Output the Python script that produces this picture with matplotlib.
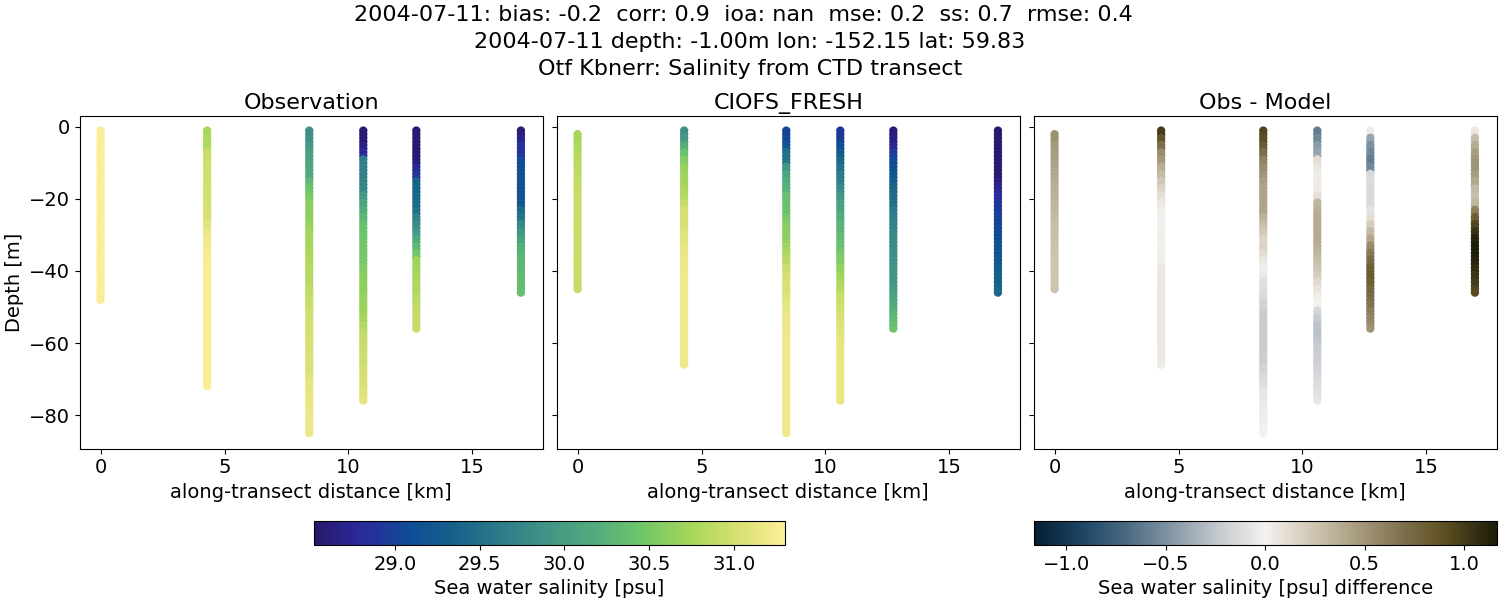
import matplotlib
matplotlib.use('Agg')
import matplotlib.pyplot as plt
from matplotlib.cm import ScalarMappable
from matplotlib.colors import LinearSegmentedColormap, Normalize

suptitle_text = ("2004-07-11: bias: -0.2  corr: 0.9  ioa: nan  mse: 0.2  ss: 0.7  rmse: 0.4  \n"
                 "2004-07-11 depth: -1.00m lon: -152.15 lat: 59.83\n"
                 "Otf Kbnerr: Salinity from CTD transect")
panel_titles = ['Observation', 'CIOFS_FRESH', 'Obs - Model']

distance = [0.0, 4.3, 8.42, 10.6, 12.74, 16.96]

# sample levels in metres, each cast also has its own top and bottom
levels = [-1, -3, -5, -7, -9, -11, -13, -15, -17, -19, -21, -23, -25, -27, -29,
          -31, -33, -35, -37, -39, -41, -43, -45, -47, -49, -51, -53, -55, -57,
          -59, -61, -63, -65, -67, -69, -71, -73, -75, -77, -79, -81, -83, -85]
obs_top = [-1, -1, -1, -1, -1, -1]
obs_bottom = [-48, -72, -85, -76, -56, -46]
model_top = [-2, -1, -1, -1, -1, -1]
model_bottom = [-45, -66, -85, -76, -56, -46]

obs_cast1 = [31.28, 31.28, 31.28, 31.28, 31.28, 31.28, 31.28, 31.28, 31.28, 31.28,
             31.28, 31.28, 31.28, 31.28, 31.28, 31.28, 31.28, 31.28, 31.28, 31.28,
             31.28, 31.28, 31.28, 31.28, 31.28]
obs_cast2 = [30.75, 30.78, 30.8, 30.95, 30.97, 30.97, 30.98, 30.98, 31.0, 31.0,
             31.0, 31.02, 31.05, 31.1, 31.15, 31.2, 31.22, 31.25, 31.25, 31.26,
             31.26, 31.27, 31.27, 31.27, 31.27, 31.27, 31.27, 31.28, 31.28, 31.28,
             31.28, 31.28, 31.28, 31.28, 31.28, 31.28, 31.28]
obs_cast3 = [29.85, 29.85, 29.95, 30.05, 30.08, 30.12, 30.15, 30.3, 30.42, 30.5,
             30.6, 30.6, 30.62, 30.65, 30.72, 30.75, 30.75, 30.78, 30.8, 30.82,
             30.85, 30.85, 30.88, 30.9, 30.92, 30.97, 30.98, 31.0, 31.0, 31.02,
             31.02, 31.03, 31.05, 31.05, 31.08, 31.12, 31.12, 31.14, 31.15, 31.16,
             31.17, 31.18, 31.18]
obs_cast4 = [28.58, 28.58, 28.65, 28.8, 29.65, 29.7, 29.7, 29.72, 29.75, 29.95,
             30.1, 30.2, 30.3, 30.38, 30.42, 30.45, 30.47, 30.48, 30.5, 30.55,
             30.6, 30.62, 30.62, 30.65, 30.68, 30.7, 30.75, 30.82, 30.88, 30.92,
             30.95, 30.97, 30.98, 31.0, 31.02, 31.05, 31.08, 31.1, 31.12]
obs_cast5 = [28.55, 28.55, 28.55, 28.55, 28.58, 28.75, 28.9, 29.35, 29.38, 29.42,
             29.45, 29.5, 29.7, 29.8, 29.95, 30.15, 30.3, 30.45, 30.7, 30.72,
             30.75, 30.78, 30.8, 30.85, 30.88, 30.9, 30.92, 30.92, 30.93]
obs_cast6 = [28.6, 28.7, 28.85, 28.9, 29.05, 29.1, 29.15, 29.15, 29.15, 29.17,
             29.2, 29.45, 29.55, 29.75, 29.9, 30.05, 30.2, 30.25, 30.28, 30.3,
             30.33, 30.35, 30.37, 30.38]

model_cast1 = [30.75, 30.75, 30.8, 30.82, 30.85, 30.87, 30.88, 30.9, 30.9, 30.92,
               30.93, 30.93, 30.94, 30.94, 30.95, 30.95, 30.95, 30.95, 30.95, 30.93,
               30.92, 30.9, 30.9]
model_cast2 = [29.85, 29.95, 30.2, 30.4, 30.55, 30.65, 30.7, 30.72, 30.78, 30.82,
               30.92, 31.0, 31.02, 31.05, 31.08, 31.1, 31.13, 31.15, 31.17, 31.18,
               31.2, 31.2, 31.2, 31.2, 31.2, 31.2, 31.2, 31.2, 31.2, 31.2,
               31.2, 31.2, 31.2, 31.2]
model_cast3 = [29.0, 29.05, 29.2, 29.5, 29.55, 29.9, 30.1, 30.2, 30.25, 30.38,
               30.4, 30.42, 30.5, 30.58, 30.6, 30.62, 30.72, 30.8, 30.85, 30.95,
               31.0, 31.03, 31.05, 31.08, 31.12, 31.15, 31.16, 31.17, 31.18, 31.19,
               31.2, 31.2, 31.2, 31.2, 31.2, 31.2, 31.2, 31.2, 31.2, 31.2,
               31.2, 31.2, 31.2]
model_cast4 = [28.9, 28.95, 29.1, 29.25, 29.4, 29.5, 29.6, 29.65, 29.8, 29.9,
               30.05, 30.1, 30.2, 30.25, 30.3, 30.35, 30.4, 30.5, 30.55, 30.65,
               30.7, 30.78, 30.85, 30.92, 30.97, 31.0, 31.05, 31.08, 31.1, 31.12,
               31.13, 31.14, 31.15, 31.15, 31.15, 31.15, 31.15, 31.15, 31.15]
model_cast5 = [28.6, 28.65, 28.75, 28.95, 29.05, 29.12, 29.2, 29.3, 29.4, 29.45,
               29.5, 29.6, 29.65, 29.7, 29.75, 29.8, 29.82, 29.85, 29.87, 29.9,
               29.92, 29.95, 30.0, 30.1, 30.15, 30.25, 30.32, 30.38, 30.42]
model_cast6 = [28.55, 28.55, 28.55, 28.55, 28.55, 28.55, 28.55, 28.65, 28.75, 28.8,
               28.9, 28.95, 29.0, 29.03, 29.05, 29.1, 29.15, 29.18, 29.22, 29.28,
               29.32, 29.35, 29.38, 29.4]

diff_cast1 = [0.52, 0.52, 0.48, 0.46, 0.44, 0.42, 0.4, 0.38, 0.36, 0.35,
              0.33, 0.32, 0.3, 0.29, 0.28, 0.27, 0.27, 0.26, 0.25, 0.25,
              0.25, 0.25, 0.25]
diff_cast2 = [1.0, 0.88, 0.7, 0.55, 0.48, 0.38, 0.3, 0.22, 0.16, 0.1,
              0.05, 0.02, 0.01, 0.01, 0.02, 0.02, 0.01, 0.02, 0.02, 0.05,
              0.06, 0.06, 0.06, 0.06, 0.06, 0.06, 0.06, 0.06, 0.06, 0.06,
              0.05, 0.05, 0.05, 0.04]
diff_cast3 = [0.95, 0.9, 0.82, 0.7, 0.6, 0.55, 0.5, 0.45, 0.42, 0.42,
              0.42, 0.42, 0.35, 0.28, 0.22, 0.15, 0.18, 0.12, 0.05, 0.02,
              -0.05, -0.1, -0.12, -0.15, -0.18, -0.2, -0.22, -0.22, -0.22, -0.22,
              -0.22, -0.2, -0.2, -0.18, -0.15, -0.12, -0.08, -0.06, -0.04, -0.03,
              -0.02, -0.01, 0.0]
diff_cast4 = [-0.6, -0.55, -0.45, -0.4, 0.1, 0.06, 0.04, 0.03, 0.03, 0.1,
              0.32, 0.36, 0.38, 0.38, 0.38, 0.38, 0.36, 0.32, 0.28, 0.25,
              0.2, 0.13, 0.08, 0.02, 0.0, -0.15, -0.22, -0.26, -0.28, -0.25,
              -0.22, -0.2, -0.2, -0.18, -0.15, -0.12, -0.1, -0.08, -0.07]
diff_cast5 = [-0.03, -0.4, -0.5, -0.55, -0.6, -0.55, -0.15, -0.13, -0.14, -0.15,
              -0.15, -0.08, 0.1, 0.2, 0.3, 0.4, 0.55, 0.65, 0.72, 0.8,
              0.82, 0.8, 0.75, 0.72, 0.68, 0.62, 0.58, 0.55, 0.5]
diff_cast6 = [0.05, 0.28, 0.38, 0.45, 0.5, 0.5, 0.46, 0.4, 0.3, 0.28,
              0.32, 0.6, 0.8, 0.95, 1.05, 1.12, 1.15, 1.15, 1.12, 1.08,
              1.03, 1.0, 0.95, 0.92]

obs_casts = [obs_cast1, obs_cast2, obs_cast3, obs_cast4, obs_cast5, obs_cast6]
model_casts = [model_cast1, model_cast2, model_cast3, model_cast4, model_cast5, model_cast6]
diff_casts = [diff_cast1, diff_cast2, diff_cast3, diff_cast4, diff_cast5, diff_cast6]

# stand-ins for cmocean haline and diff, the package is not installed
haline = LinearSegmentedColormap.from_list('haline', [
    (0.0, '#29186b'), (0.1, '#2a2a9c'), (0.2, '#0f4c94'), (0.3, '#16628a'),
    (0.4, '#2f7c8a'), (0.5, '#429586'), (0.6, '#52ac7c'), (0.7, '#70c769'),
    (0.8, '#a5d65a'), (0.9, '#d6e070'), (1.0, '#fdee99')])
diff = LinearSegmentedColormap.from_list('diff', [
    (0.0, '#071e33'), (0.1, '#1b4463'), (0.2, '#4a6a82'), (0.3, '#8798a6'),
    (0.4, '#c5cad0'), (0.5, '#f5f1ef'), (0.6, '#d0c7b5'), (0.7, '#a89c7f'),
    (0.8, '#7d6f4c'), (0.88, '#625326'), (1.0, '#1c1c08')])
salt_norm = Normalize(28.52, 31.30)
diff_norm = Normalize(-1.163, 1.163)


def cast_depths(top, bottom):
    return [top] + [d for d in levels if bottom < d < top] + [bottom]


def plot_panel(ax, casts, tops, bottoms, cmap, norm):
    for x, vals, top, bottom in zip(distance, casts, tops, bottoms):
        depths = cast_depths(top, bottom)
        ys = []
        cs = []
        # every value covers its 2 m bin, the dots have to overlap like the 1 m profile
        for i, d in enumerate(depths):
            ys.append(d)
            cs.append(vals[i])
            if i < len(depths) - 1 and d - depths[i + 1] == 2:
                ys.append(d - 1)
                cs.append(vals[i])
        ax.scatter([x] * len(ys), ys, c=cs, cmap=cmap, norm=norm, s=36, linewidths=0)


fig = plt.figure(figsize=(15, 6), dpi=100)
plt.rcParams['font.size'] = 14

ax1 = fig.add_axes([80 / 1500, 1 - 448.5 / 600, 462.5 / 1500, 332.5 / 600])
ax2 = fig.add_axes([557 / 1500, 1 - 448.5 / 600, 462.5 / 1500, 332.5 / 600])
ax3 = fig.add_axes([1034 / 1500, 1 - 448.5 / 600, 462.5 / 1500, 332.5 / 600])

plot_panel(ax1, obs_casts, obs_top, obs_bottom, haline, salt_norm)
plot_panel(ax2, model_casts, model_top, model_bottom, haline, salt_norm)
plot_panel(ax3, diff_casts, model_top, model_bottom, diff, diff_norm)

for i, ax in enumerate([ax1, ax2, ax3]):
    ax.set_xlim(-0.83, 17.83)
    ax.set_ylim(-89.3, 3.05)
    ax.set_xticks([0, 5, 10, 15])
    ax.set_yticks([-80, -60, -40, -20, 0])
    ax.tick_params(labelsize=14)
    ax.set_xlabel('along-transect distance [km]', fontsize=14)
    ax.set_title(panel_titles[i], fontsize=16, pad=5)
    if i > 0:
        ax.tick_params(labelleft=False)
ax1.set_ylabel('Depth [m]', fontsize=14, labelpad=4)

fig.text(0.5, 0.992, suptitle_text, ha='center', va='top', fontsize=16, linespacing=1.44)

cax1 = fig.add_axes([314 / 1500, 1 - 545 / 600, 470.5 / 1500, 24 / 600])
cb1 = fig.colorbar(ScalarMappable(norm=salt_norm, cmap=haline), cax=cax1, orientation='horizontal')
cb1.set_ticks([29.0, 29.5, 30.0, 30.5, 31.0])
cb1.ax.tick_params(labelsize=14)
cb1.set_label('Sea water salinity [psu]', fontsize=14)

cax2 = fig.add_axes([1034 / 1500, 1 - 545 / 600, 462.5 / 1500, 24 / 600])
cb2 = fig.colorbar(ScalarMappable(norm=diff_norm, cmap=diff), cax=cax2, orientation='horizontal')
cb2.set_ticks([-1.0, -0.5, 0.0, 0.5, 1.0])
cb2.ax.tick_params(labelsize=14)
cb2.set_label('Sea water salinity [psu] difference', fontsize=14)

fig.savefig('out.png', dpi=100)
